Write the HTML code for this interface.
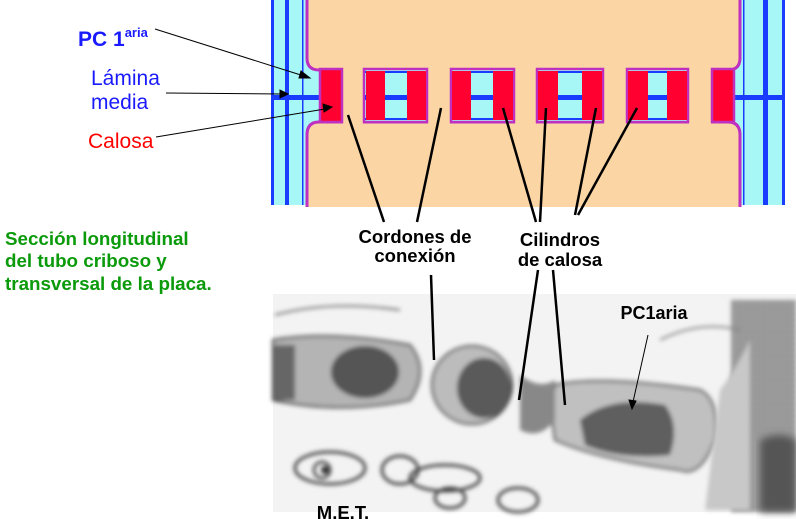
<!DOCTYPE html>
<html><head><meta charset="utf-8"><style>
html,body{margin:0;padding:0;background:#fff;}
body{width:796px;height:519px;overflow:hidden;position:relative;font-family:"Liberation Sans",Arial,sans-serif;}
svg{position:absolute;left:0;top:0;}
</style></head><body>
<svg width="796" height="519" viewBox="0 0 796 519" xmlns="http://www.w3.org/2000/svg" font-family="Liberation Sans, Arial, sans-serif">
<defs>
<filter id="blur2"><feGaussianBlur stdDeviation="2"/></filter>
<filter id="blur4"><feGaussianBlur stdDeviation="4"/></filter>
<pattern id="tex" width="6" height="6" patternUnits="userSpaceOnUse"><rect width="6" height="6" fill="#9a9a9a"/><circle cx="2" cy="2" r="1.6" fill="#444"/><circle cx="5" cy="5" r="1.2" fill="#555"/></pattern>
</defs>
<!-- top diagram -->
<rect x="271" y="0" width="514" height="205" fill="#a8f7f7"/>
<rect x="271" y="0" width="3" height="205" fill="#1a3cff"/>
<rect x="782" y="0" width="3" height="205" fill="#1a3cff"/>
<rect x="285" y="0" width="4" height="205" fill="#1a3cff"/>
<rect x="763" y="0" width="5" height="205" fill="#1a3cff"/>
<rect x="302" y="0" width="1.5" height="205" fill="#1a3cff"/>
<rect x="743" y="0" width="1.5" height="205" fill="#1a3cff"/>
<!-- peach top and bottom -->
<path d="M307 -2 V58 Q307 70 319 70 H728 Q740 70 740 58 V-2 Z" fill="#fcd5a5"/>
<path d="M307 -2 V58 Q307 70 319 70 H728 Q740 70 740 58 V-2" fill="none" stroke="#c030c0" stroke-width="3"/>
<path d="M307 207 V135 Q307 122 319 122 H728 Q740 122 740 135 V207 Z" fill="#fcd5a5"/>
<path d="M307 207 V135 Q307 122 319 122 H728 Q740 122 740 135 V207" fill="none" stroke="#c030c0" stroke-width="3"/>
<!-- peach between pores -->
<rect x="343" y="68" width="20" height="56" fill="#fcd5a5"/>
<rect x="428" y="68" width="22" height="56" fill="#fcd5a5"/>
<rect x="515" y="68" width="21" height="56" fill="#fcd5a5"/>
<rect x="604" y="68" width="22" height="56" fill="#fcd5a5"/>
<rect x="689" y="68" width="22" height="56" fill="#fcd5a5"/>
<!-- middle lamella -->
<rect x="274" y="95" width="46" height="5" fill="#1a3cff"/>
<rect x="733" y="95" width="50" height="5" fill="#1a3cff"/>
<!-- pores -->
<g stroke="#c030c0" stroke-width="2.5">
<rect x="320" y="69" width="22" height="53" fill="#ff0030"/>
<rect x="364" y="69" width="63" height="53" fill="#a8f7f7"/>
<rect x="451" y="69" width="63" height="53" fill="#a8f7f7"/>
<rect x="537" y="69" width="66" height="53" fill="#a8f7f7"/>
<rect x="627" y="69" width="61" height="53" fill="#a8f7f7"/>
<rect x="712" y="69" width="22" height="53" fill="#ff0030"/>
</g>
<g fill="#1a3cff">
<rect x="365" y="71" width="61" height="2"/><rect x="365" y="118" width="61" height="2"/><rect x="365" y="95" width="61" height="5"/>
<rect x="452" y="71" width="61" height="2"/><rect x="452" y="118" width="61" height="2"/><rect x="452" y="95" width="61" height="5"/>
<rect x="538" y="71" width="64" height="2"/><rect x="538" y="118" width="64" height="2"/><rect x="538" y="95" width="64" height="5"/>
<rect x="628" y="71" width="59" height="2"/><rect x="628" y="118" width="59" height="2"/><rect x="628" y="95" width="59" height="5"/>
</g>
<g fill="#ff0030">
<rect x="366" y="71" width="19" height="49"/><rect x="407" y="71" width="19" height="49"/>
<rect x="452" y="71" width="19" height="49"/><rect x="493" y="71" width="20" height="49"/>
<rect x="538" y="71" width="20" height="49"/><rect x="582" y="71" width="20" height="49"/>
<rect x="628" y="71" width="20" height="49"/><rect x="667" y="71" width="20" height="49"/>
</g>
<!-- micrograph -->
<rect x="273" y="294" width="523" height="218" fill="#f3f3f3"/>
<g filter="url(#blur2)">
<path d="M273 340 Q330 330 410 345 Q430 370 410 400 Q340 415 273 400 Z" fill="#b4b4b4" stroke="#333" stroke-width="2"/>
<ellipse cx="365" cy="372" rx="34" ry="26" fill="#555"/>
<rect x="273" y="345" width="22" height="55" fill="#666"/>
<ellipse cx="472" cy="385" rx="40" ry="39" fill="#bcbcbc" stroke="#333" stroke-width="2"/>
<ellipse cx="484" cy="388" rx="27" ry="30" fill="#5a5a5a"/>
<path d="M555 385 Q600 375 700 390 Q720 400 715 440 Q700 478 680 470 Q600 460 555 440 Q550 410 555 385 Z" fill="#c0c0c0" stroke="#333" stroke-width="2"/>
<path d="M580 420 Q610 395 665 405 Q680 425 670 455 Q620 460 585 445 Z" fill="#5e5e5e"/>
<path d="M520 375 Q540 390 555 380 L555 420 Q540 440 520 430 Z" fill="#888"/>
<ellipse cx="330" cy="468" rx="35" ry="16" fill="none" stroke="#444" stroke-width="3"/>
<ellipse cx="400" cy="470" rx="18" ry="14" fill="none" stroke="#444" stroke-width="3"/>
<ellipse cx="445" cy="478" rx="35" ry="13" fill="none" stroke="#444" stroke-width="3"/>
<ellipse cx="450" cy="498" rx="15" ry="10" fill="none" stroke="#444" stroke-width="3"/>
<ellipse cx="518" cy="500" rx="20" ry="12" fill="none" stroke="#444" stroke-width="3"/>
<circle cx="325" cy="470" r="4" fill="#333"/>
<circle cx="322" cy="470" r="8" fill="none" stroke="#555" stroke-width="3"/>
<path d="M275 315 Q330 300 400 310" stroke="#777" stroke-width="2" fill="none"/>
<path d="M660 340 Q700 320 740 330" stroke="#888" stroke-width="2" fill="none"/>
</g>
<rect x="731" y="300" width="65" height="212" fill="url(#tex)" opacity="0.8" filter="url(#blur2)"/>
<path d="M720 390 Q735 370 750 340 L750 510 L705 510 Z" fill="#c8c8c8" filter="url(#blur2)"/>
<path d="M760 440 Q780 430 796 440 V512 H760 Z" fill="#555" filter="url(#blur4)"/>
<!-- connector lines -->
<g stroke="#000" stroke-width="2.5" fill="none">
<line x1="348" y1="115" x2="384" y2="222"/>
<line x1="441" y1="108" x2="417" y2="222"/>
<line x1="503" y1="108" x2="536" y2="222"/>
<line x1="546" y1="108" x2="540" y2="222"/>
<line x1="596" y1="108" x2="575" y2="215"/>
<line x1="637" y1="108" x2="578" y2="215"/>
<line x1="431" y1="275" x2="434" y2="360"/>
<line x1="538" y1="270" x2="519" y2="400"/>
<line x1="553" y1="270" x2="565" y2="405"/>
</g>
<g stroke="#000" stroke-width="1" fill="#000">
<line x1="155" y1="29" x2="304" y2="76"/><path d="M310 78 L301 71 L299 78 Z"/>
<line x1="166" y1="93" x2="282" y2="94"/><path d="M288 94 L280 90 L280 98 Z"/>
<line x1="156" y1="137" x2="325" y2="109"/><path d="M332 107 L323 104 L324 112 Z"/>
<line x1="648" y1="335" x2="633" y2="402"/><path d="M632 409 L629 400 L636 401 Z"/>
</g>
<!-- labels -->
<text x="78" y="46" fill="#1a1aff" font-size="21" font-weight="bold">PC 1<tspan font-size="13" dy="-9">aria</tspan></text>
<text x="91" y="85" fill="#1a1aff" font-size="21">Lámina</text>
<text x="91" y="109" fill="#1a1aff" font-size="21">media</text>
<text x="88" y="148" fill="#ff0000" font-size="21">Calosa</text>
<g fill="#0a9a0a" font-size="18.8" font-weight="bold">
<text x="5" y="245">Sección longitudinal</text>
<text x="5" y="267">del tubo criboso y</text>
<text x="5" y="290">transversal de la placa.</text>
</g>
<g fill="#000" font-size="18.5" font-weight="bold" text-anchor="middle">
<text x="415" y="243">Cordones de</text>
<text x="415" y="262">conexión</text>
<text x="560" y="246">Cilindros</text>
<text x="560" y="266">de calosa</text>
<text x="654" y="319" font-size="18">PC1aria</text>
<text x="343" y="519">M.E.T.</text>
</g>
</svg>
</body></html>
